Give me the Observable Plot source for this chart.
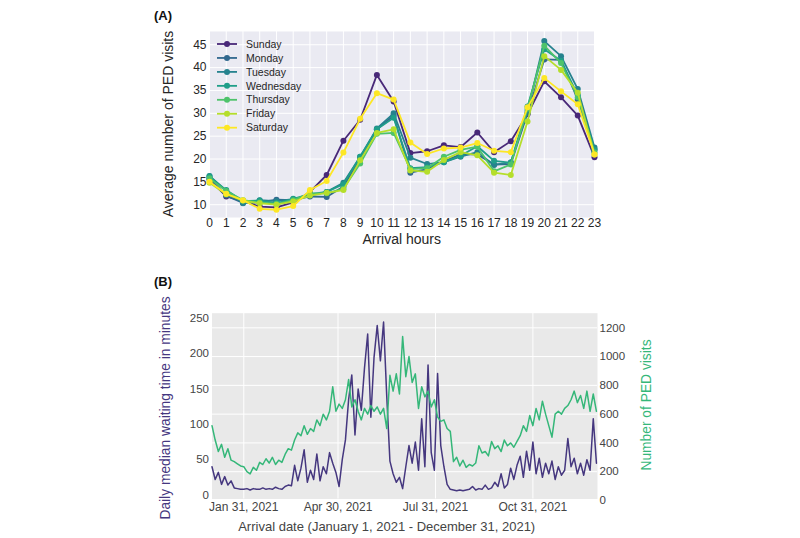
<!DOCTYPE html>
<html><head><meta charset="utf-8">
<script src="https://cdn.jsdelivr.net/npm/d3@7"></script>
<script src="https://cdn.jsdelivr.net/npm/@observablehq/plot@0.6"></script>
<style>
html,body{margin:0;padding:0;background:#fff;}
#root{position:relative;width:800px;height:538px;overflow:hidden;font-family:"Liberation Sans",Arial,sans-serif;}
.panel{position:absolute;}
.tag{position:absolute;font-weight:bold;font-size:13px;line-height:13px;color:#111;}
</style></head>
<body><div id="root"></div>
<script>
// ---------- Panel A data ----------
const days = ["Sunday","Monday","Tuesday","Wednesday","Thursday","Friday","Saturday"];
const dayColors = ["#482878","#31688e","#26828e","#1f9e89","#4ec36b","#b5de2b","#fde725"];
const hours = [0,1,2,3,4,5,6,7,8,9,10,11,12,13,14,15,16,17,18,19,20,21,22,23];
const visitTicksA = [10,15,20,25,30,35,40,45];
const sunday    = [15.5,11.8,10.8,9.6,9.4,10.5,12.8,16.5,24.0,28.6,38.4,32.6,21.3,21.7,23.0,22.6,25.8,21.5,23.9,29.8,37.0,33.5,29.5,20.4];
const monday    = [15.8,12.0,10.4,10.5,11.1,11.0,11.8,11.7,14.0,20.0,26.5,29.5,17.0,17.8,19.5,21.0,21.0,18.8,18.9,30.0,41.8,41.7,33.0,22.0];
const tuesday   = [16.3,13.0,10.3,11.0,10.8,11.2,12.0,12.8,14.8,20.5,26.7,30.0,20.3,18.9,19.3,20.5,21.5,18.7,19.3,30.5,45.8,42.5,35.3,22.5];
const wednesday = [16.2,13.2,10.8,10.9,10.3,11.3,12.3,12.8,14.5,20.5,26.5,29.0,18.0,18.2,19.3,20.7,22.8,19.6,19.2,31.5,44.0,41.5,34.0,22.0];
const thursday  = [15.8,13.0,11.0,10.5,10.2,11.0,12.5,12.5,13.5,19.0,25.5,25.7,17.8,18.0,20.5,22.0,22.7,17.3,18.8,31.0,44.8,41.0,33.5,21.5];
const friday    = [14.8,12.3,10.9,10.3,10.0,10.7,12.0,12.6,13.2,19.7,25.7,26.5,17.5,17.2,19.8,21.5,20.8,17.0,16.5,28.2,42.5,39.5,34.5,21.0];
const saturday  = [15.0,12.4,11.0,9.1,8.9,9.7,13.2,15.2,21.4,28.8,34.4,33.0,23.6,21.1,22.3,22.5,23.5,21.8,21.5,31.3,37.7,34.8,32.0,21.0];
const seriesA = [sunday,monday,tuesday,wednesday,thursday,friday,saturday];

// ---------- Panel B data (every 3rd day from Jan 1, 2021) ----------
const startDate = "2021-01-01";
const endDate = "2021-12-31";
const stepDays = 3;
const waitMinutes = [40,22,32,15,26,14,20,10,9,8, 8,9,7,9,8,8,10,8,9,8,
  11,9,8,12,14,13,42,20,38,64, 18,35,22,58,20,40,30,60,45,32,
  12,50,78,135,170,85,150,120,180,228, 110,195,240,190,245,140,48,30,18,25,
  9,40,70,45,75,35,108,40,184,60, 35,172,70,40,15,8,7,6,7,6,
  7,8,12,7,9,8,14,8,10,18, 12,30,10,15,38,22,42,55,25,62,
  35,75,30,52,25,45,30,48,22,40, 28,35,80,40,52,30,45,28,50,35,
  108,45];
const pedVisits = [520,420,340,390,300,360,280,270,255,240, 235,200,185,230,210,265,250,290,260,300,
  250,280,265,320,360,350,420,470,450,520, 460,500,480,560,520,600,560,620,790,620,
  670,640,700,840,650,700,620,560,640,600, 660,620,650,600,640,500,870,760,880,740,
  1140,860,1000,820,880,640,790,720,760,650, 700,580,550,560,500,480,270,300,240,280,
  230,250,240,260,380,330,340,310,410,360, 380,340,420,380,400,370,410,450,520,480,
  590,520,640,560,690,600,520,440,600,620, 600,640,660,700,760,680,730,640,760,620,
  740,620];
const dateTicks = ["2021-01-31","2021-04-30","2021-07-31","2021-10-31"];
const waitTicks = [0,50,100,150,200,250];
const visitTicksB = [0,200,400,600,800,1000,1200];

const purple = "#45377f";
const green = "#35b779";
const fontFam = "Liberation Sans, Arial, sans-serif";

const root = document.getElementById("root");

// helper: add a title text (not a data mark) to an svg
function addTitle(svg, text, x, y, rot, size, color) {
  d3.select(svg).append("text")
    .attr("transform", `translate(${x},${y}) rotate(${rot})`)
    .attr("text-anchor", "middle").attr("dominant-baseline", "central")
    .attr("font-family", fontFam).attr("font-size", size).attr("fill", color)
    .text(text);
}

// ---------- Panel A ----------
const rowsA = [];
days.forEach((day, k) => seriesA[k].forEach((v, h) => rowsA.push({day, hour: hours[h], value: v})));

const marksA = [
  Plot.frame({fill: "#eaeaf2", stroke: "none"}),
  Plot.gridX({ticks: hours, stroke: "white", strokeOpacity: 1, strokeWidth: 1}),
  Plot.gridY({ticks: visitTicksA, stroke: "white", strokeOpacity: 1, strokeWidth: 1}),
  Plot.axisX({ticks: hours, tickSize: 0, tickPadding: 1, label: null, fontSize: 12, color: "#262626"}),
  Plot.axisY({ticks: visitTicksA, tickSize: 0, tickPadding: 3, label: null, fontSize: 12, color: "#262626"}),
];
days.forEach(day => {
  const rows = rowsA.filter(r => r.day === day);
  marksA.push(Plot.line(rows, {x: "hour", y: "value", stroke: "day", strokeWidth: 1.8}));
  marksA.push(Plot.dot(rows, {x: "hour", y: "value", fill: "day", r: 3}));
});

const plotA = Plot.plot({
  width: 470, height: 250,
  marginLeft: 59, marginRight: 26, marginTop: 31, marginBottom: 33,
  style: {fontFamily: fontFam, background: "transparent", overflow: "visible"},
  x: {domain: [0, 23]},
  y: {domain: [7.2, 47.9]},
  color: {domain: days, range: dayColors},
  marks: marksA
});
const wrapA = document.createElement("div");
wrapA.className = "panel"; wrapA.style.left = "150px"; wrapA.style.top = "0px";
wrapA.appendChild(plotA);
root.appendChild(wrapA);
addTitle(plotA, "Average number of PED visits", 18, 124, -90, 14, "#262626");
addTitle(plotA, "Arrival hours", 251.7, 239, 0, 14, "#262626");

// legend for panel A
const leg = d3.select(plotA).append("g").attr("font-family", fontFam).attr("font-size", 10.5).attr("fill", "#262626").attr("text-anchor", "start");
days.forEach((day, i) => {
  const g = leg.append("g").attr("transform", `translate(67,${44 + i * 13.95})`);
  g.append("line").attr("x1", 0).attr("x2", 20).attr("y1", 0).attr("y2", 0).attr("stroke", dayColors[i]).attr("stroke-width", 1.8);
  g.append("circle").attr("cx", 10).attr("cy", 0).attr("r", 3).attr("fill", dayColors[i]);
  g.append("text").attr("x", 29).attr("y", 0).attr("dy", "0.35em").attr("text-anchor", "start").text(day);
});

// ---------- Panel B ----------
const parse = d3.utcParse("%Y-%m-%d");
const start = parse(startDate), end = parse(endDate);
// right axis (visits) expressed in left-axis (minutes) units
const toLeft = v => -7.79 + 0.20382 * v;
const fromLeft = w => (w + 7.79) / 0.20382;
const rowsB = waitMinutes.map((w, i) => ({date: d3.utcDay.offset(start, i * stepDays), wait: w, visits: toLeft(pedVisits[i])}));
const tickDates = dateTicks.map(parse);

const plotB = Plot.plot({
  width: 510, height: 273,
  marginLeft: 61.5, marginRight: 63, marginTop: 47.7, marginBottom: 39.5,
  style: {fontFamily: fontFam, background: "transparent", overflow: "visible"},
  x: {type: "utc", domain: [start, end]},
  y: {domain: [-5.7, 257.5]},
  marks: [
    Plot.frame({fill: "#e9e9e9", stroke: "none"}),
    Plot.gridX({ticks: tickDates, stroke: "white", strokeOpacity: 1, strokeWidth: 1}),
    Plot.gridY({ticks: visitTicksB.map(toLeft), stroke: "white", strokeOpacity: 1, strokeWidth: 1}),
    Plot.axisX({ticks: tickDates, tickFormat: d3.utcFormat("%b %-d, %Y"), tickSize: 0, tickPadding: 3, label: null, fontSize: 12, color: "#444"}),
    Plot.axisY({ticks: waitTicks, tickSize: 0, tickPadding: 3, label: null, fontSize: 11.5, color: "#444"}),
    Plot.axisY({anchor: "right", ticks: visitTicksB.map(toLeft), tickFormat: d => String(Math.round(fromLeft(d))), tickSize: 0, tickPadding: 2, label: null, fontSize: 11.5, color: "#444"}),
    Plot.line(rowsB, {x: "date", y: "wait", stroke: purple, strokeWidth: 1.5}),
    Plot.line(rowsB, {x: "date", y: "visits", stroke: green, strokeWidth: 1.5})
  ]
});
const wrapB = document.createElement("div");
wrapB.className = "panel"; wrapB.style.left = "150px"; wrapB.style.top = "265px";
wrapB.appendChild(plotB);
root.appendChild(wrapB);
addTitle(plotB, "Daily median waiting time in minutes", 15, 143, -90, 13.8, purple);
addTitle(plotB, "Number of PED visits", 496, 140, -90, 13.8, green);
addTitle(plotB, "Arrival date (January 1, 2021 - December 31, 2021)", 236.7, 261.7, 0, 13, "#444");

// panel tags
[["(A)", 154, 9], ["(B)", 154, 275]].forEach(([t, x, y]) => {
  const d = document.createElement("div");
  d.className = "tag"; d.textContent = t; d.style.left = x + "px"; d.style.top = y + "px";
  root.appendChild(d);
});
</script>
</body></html>
